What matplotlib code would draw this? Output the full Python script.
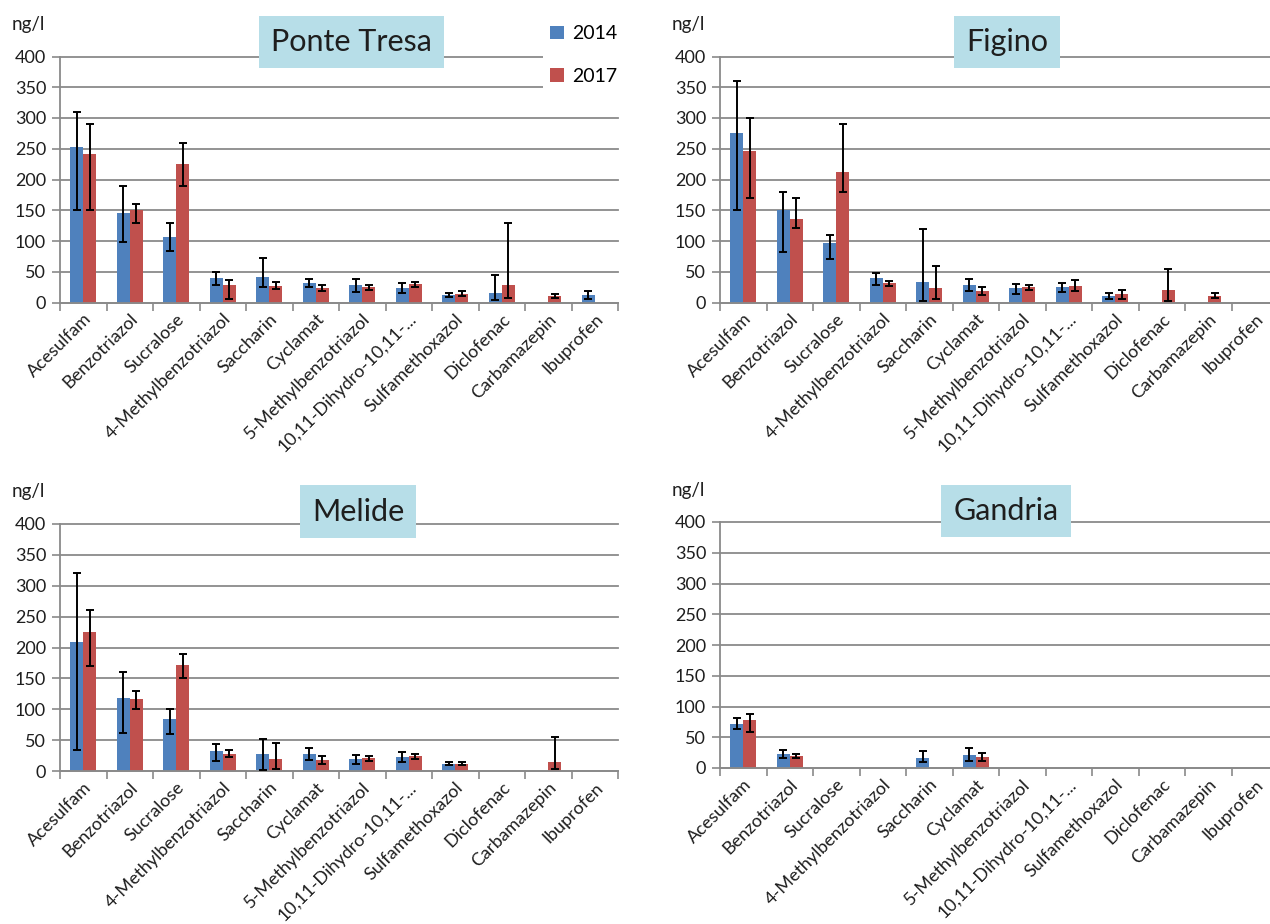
import numpy as np
import matplotlib
matplotlib.use("Agg")
import matplotlib.pyplot as plt

plt.rcParams['font.family'] = ['Lato', 'DejaVu Sans']

nan = np.nan
categories = ["Acesulfam", "Benzotriazol", "Sucralose", "4-Methylbenzotriazol",
              "Saccharin", "Cyclamat", "5-Methylbenzotriazol", "10,11-Dihydro-10,11-...",
              "Sulfamethoxazol", "Diclofenac", "Carbamazepin", "Ibuprofen"]
years = ["2014", "2017"]
yticks = [0, 50, 100, 150, 200, 250, 300, 350, 400]

# Ponte Tresa
pt_2014    = [253, 145, 106, 40, 41, 32, 28, 23, 12, 15, nan, 12]
pt_2014_lo = [150, 98, 83, 28, 25, 25, 17, 15, 9, 4, nan, 5]
pt_2014_hi = [310, 190, 130, 50, 73, 38, 38, 32, 15, 45, nan, 19]
pt_2017    = [242, 150, 226, 29, 27, 23, 25, 30, 14, 28, 11, nan]
pt_2017_lo = [150, 130, 190, 6, 22, 18, 21, 26, 11, 8, 7, nan]
pt_2017_hi = [290, 160, 260, 37, 34, 28, 29, 34, 18, 130, 14, nan]

# Figino
fi_2014    = [275, 151, 96, 40, 34, 28, 23, 25, 11, nan, nan, nan]
fi_2014_lo = [150, 82, 70, 28, 3, 18, 14, 17, 5, nan, nan, nan]
fi_2014_hi = [360, 180, 110, 48, 120, 38, 30, 32, 15, nan, nan, nan]
fi_2017    = [246, 136, 213, 32, 23, 18, 25, 27, 14, 20, 11, nan]
fi_2017_lo = [170, 121, 180, 27, 5, 12, 21, 19, 6, 3, 7, nan]
fi_2017_hi = [300, 170, 290, 35, 60, 25, 29, 36, 20, 55, 15, nan]

# Melide
me_2014    = [209, 118, 84, 32, 28, 27, 20, 22, 11, nan, nan, nan]
me_2014_lo = [34, 62, 60, 17, 2, 18, 12, 15, 9, nan, nan, nan]
me_2014_hi = [320, 160, 100, 44, 52, 37, 26, 30, 14, nan, nan, nan]
me_2017    = [225, 117, 172, 28, 20, 18, 21, 24, 12, nan, 15, nan]
me_2017_lo = [170, 100, 150, 23, 3, 12, 17, 20, 10, nan, 4, nan]
me_2017_hi = [260, 130, 190, 34, 45, 24, 25, 27, 14, nan, 55, nan]

# Gandria
ga_2014    = [72, 23, nan, nan, 17, 21, nan, nan, nan, nan, nan, nan]
ga_2014_lo = [63, 17, nan, nan, 10, 11, nan, nan, nan, nan, nan, nan]
ga_2014_hi = [82, 30, nan, nan, 28, 33, nan, nan, nan, nan, nan, nan]
ga_2017    = [78, 20, nan, nan, nan, 18, nan, nan, nan, nan, nan, nan]
ga_2017_lo = [58, 17, nan, nan, nan, 12, nan, nan, nan, nan, nan, nan]
ga_2017_hi = [88, 23, nan, nan, nan, 24, nan, nan, nan, nan, nan, nan]

BLUE = "#4F81BD"
RED = "#C0504D"
GRID = "#8a8a8a"
TXT = "#1e1e1e"

W, H = 1270, 924
fig = plt.figure(figsize=(12.7, 9.24), dpi=100)


def panel(rect, title, title_xy, v14, lo14, hi14, v17, lo17, hi17, legend=False):
    ax = fig.add_axes(rect)
    x = np.arange(len(categories))
    bw = 0.28
    for vals, lo, hi, col, off, lab in [(v14, lo14, hi14, BLUE, -bw / 2, years[0]),
                                        (v17, lo17, hi17, RED, bw / 2, years[1])]:
        v = np.array(vals, float)
        l = np.array(lo, float)
        h = np.array(hi, float)
        ax.bar(x + off, np.nan_to_num(v), width=bw, color=col, label=lab, zorder=2)
        ax.errorbar(x + off, v, yerr=[v - l, h - v], fmt='none', ecolor='black',
                    elinewidth=1.4, capsize=3, capthick=1.4, zorder=3)
    ax.set_xlim(-0.5, len(categories) - 0.5)
    ax.set_ylim(0, 400)
    ax.set_yticks(yticks)
    ax.set_yticklabels([str(t) for t in yticks], fontsize=13, color=TXT)
    ax.set_xticks(np.arange(-0.5, len(categories), 1.0))
    ax.set_xticklabels([])
    ax.set_xticks(x, minor=True)
    ax.set_xticklabels(categories, minor=True, rotation=45, ha='right', va='top',
                       rotation_mode='anchor', fontsize=13, color=TXT)
    ax.tick_params(axis='x', which='minor', length=0, pad=6)
    ax.tick_params(axis='x', which='major', length=6, width=1.2, color=GRID, direction='out')
    ax.tick_params(axis='y', length=6, width=1.2, color=GRID, direction='out', pad=4)
    for s in ['top', 'right']:
        ax.spines[s].set_visible(False)
    for s in ['left', 'bottom']:
        ax.spines[s].set_color(GRID)
        ax.spines[s].set_linewidth(1.3)
    ax.yaxis.grid(True, color=GRID, linewidth=1.3)
    ax.set_axisbelow(True)
    for gl in ax.get_ygridlines():
        gl.set_clip_on(False)
    ax.text(title_xy[0], title_xy[1], title, transform=ax.transAxes, ha='center', va='center',
            fontsize=22, color=TXT, zorder=10, clip_on=False,
            bbox=dict(boxstyle='square,pad=0.4', facecolor='#B7DEE8', edgecolor='none'))
    ax.text(-0.086, 1.13, "ng/l", transform=ax.transAxes, ha='left', va='center',
            fontsize=13.5, color=TXT, clip_on=False)
    if legend:
        lg = ax.legend(loc='upper left', bbox_to_anchor=(0.865, 1.158), frameon=True,
                       fontsize=14, handlelength=0.7, handleheight=0.7, handletextpad=0.4,
                       labelspacing=1.3, borderpad=0.4, borderaxespad=0)
        lg.get_frame().set_facecolor('white')
        lg.get_frame().set_edgecolor('none')
        lg.get_frame().set_alpha(1)
        lg.set_zorder(10)
    return ax


pw = 558 / W
panel([60 / W, 1 - 302.5 / H, pw, 246 / H], "Ponte Tresa", (0.522, 1.06),
      pt_2014, pt_2014_lo, pt_2014_hi, pt_2017, pt_2017_lo, pt_2017_hi, legend=True)
panel([720 / W, 1 - 302.5 / H, pw, 246 / H], "Figino", (0.514, 1.06),
      fi_2014, fi_2014_lo, fi_2014_hi, fi_2017, fi_2017_lo, fi_2017_hi)
panel([60 / W, 1 - 771 / H, pw, 247 / H], "Melide", (0.534, 1.05),
      me_2014, me_2014_lo, me_2014_hi, me_2017, me_2017_lo, me_2017_hi)
panel([720 / W, 1 - 768 / H, pw, 246 / H], "Gandria", (0.513, 1.045),
      ga_2014, ga_2014_lo, ga_2014_hi, ga_2017, ga_2017_lo, ga_2017_hi)

fig.savefig("out.png", dpi=100)
